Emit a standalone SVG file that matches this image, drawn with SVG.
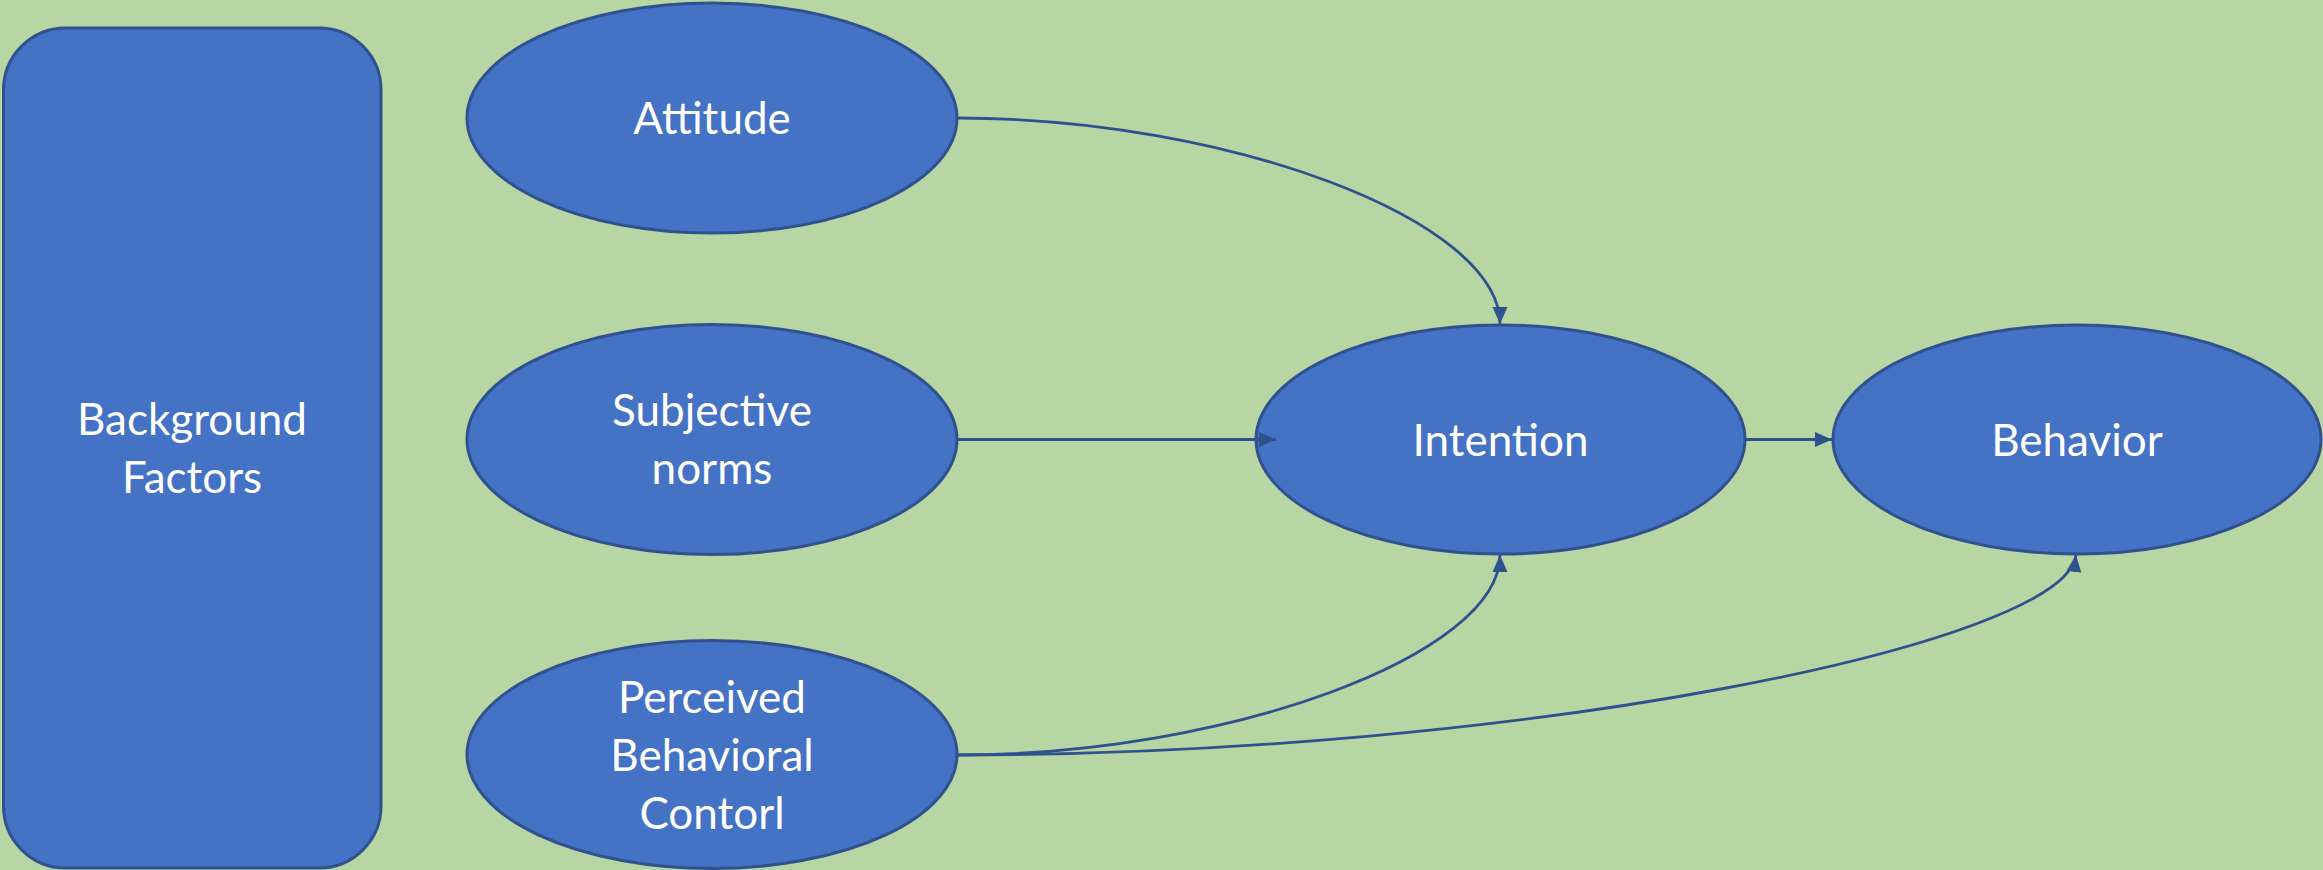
<svg xmlns="http://www.w3.org/2000/svg" width="2323" height="870" viewBox="0 0 2323 870">
<style>
.node{fill:#4472C4;stroke:#2F528F;stroke-width:3}
.lbl{fill:#FFFFFF;font-family:Lato,"Open Sans","Liberation Sans",sans-serif;font-size:44px;text-anchor:middle}
.conn{fill:none;stroke:#2F528F;stroke-width:2.8}
</style>
<defs>
<marker id="arrow" markerUnits="userSpaceOnUse" markerWidth="18" markerHeight="16" refX="17" refY="7.5" orient="auto" viewBox="0 0 18 16">
<path d="M0,0 L17,7.5 L0,15 z" fill="#2F528F"/>
</marker>
</defs>
<rect x="0" y="0" width="2323" height="870" fill="#B7D6A4"/>
<g id="background-factors">
<rect class="node" x="3.5" y="28" width="377.5" height="840" rx="62" ry="62"/>
<text class="lbl" x="192" y="435">Background</text>
<text class="lbl" x="192" y="493">Factors</text>
</g>
<g id="attitude">
<ellipse class="node" cx="712" cy="118" rx="245" ry="115"/>
<text class="lbl" x="712" y="134">Attitude</text>
</g>
<g id="subjective-norms">
<ellipse class="node" cx="712" cy="439.5" rx="245" ry="115"/>
<text class="lbl" x="712" y="426">Subjective</text>
<text class="lbl" x="712" y="484">norms</text>
</g>
<g id="perceived-behavioral-control">
<ellipse class="node" cx="712" cy="754.5" rx="245" ry="114"/>
<text class="lbl" x="712" y="713">Perceived</text>
<text class="lbl" x="712" y="771">Behavioral</text>
<text class="lbl" x="712" y="829">Contorl</text>
</g>
<g id="intention">
<ellipse class="node" cx="1500.5" cy="439.5" rx="244.5" ry="114.5"/>
<text class="lbl" x="1500.5" y="456">Intention</text>
</g>
<g id="behavior">
<ellipse class="node" cx="2077" cy="439.5" rx="244" ry="114.5"/>
<text class="lbl" x="2077" y="456">Behavior</text>
</g>
<g id="connectors">
<path class="conn" marker-end="url(#arrow)" d="M957,118 C1228,118 1500,220 1500,324"/>
<path class="conn" marker-end="url(#arrow)" d="M957,439.5 L1276,439.5"/>
<path class="conn" marker-end="url(#arrow)" d="M1745,439.5 L1832,439.5"/>
<path class="conn" marker-end="url(#arrow)" d="M957,755 C1228,755 1500,655 1500,555"/>
<path class="conn" marker-end="url(#arrow)" d="M957,755 C1517,755 2065,645 2076,555"/>
</g>
</svg>
